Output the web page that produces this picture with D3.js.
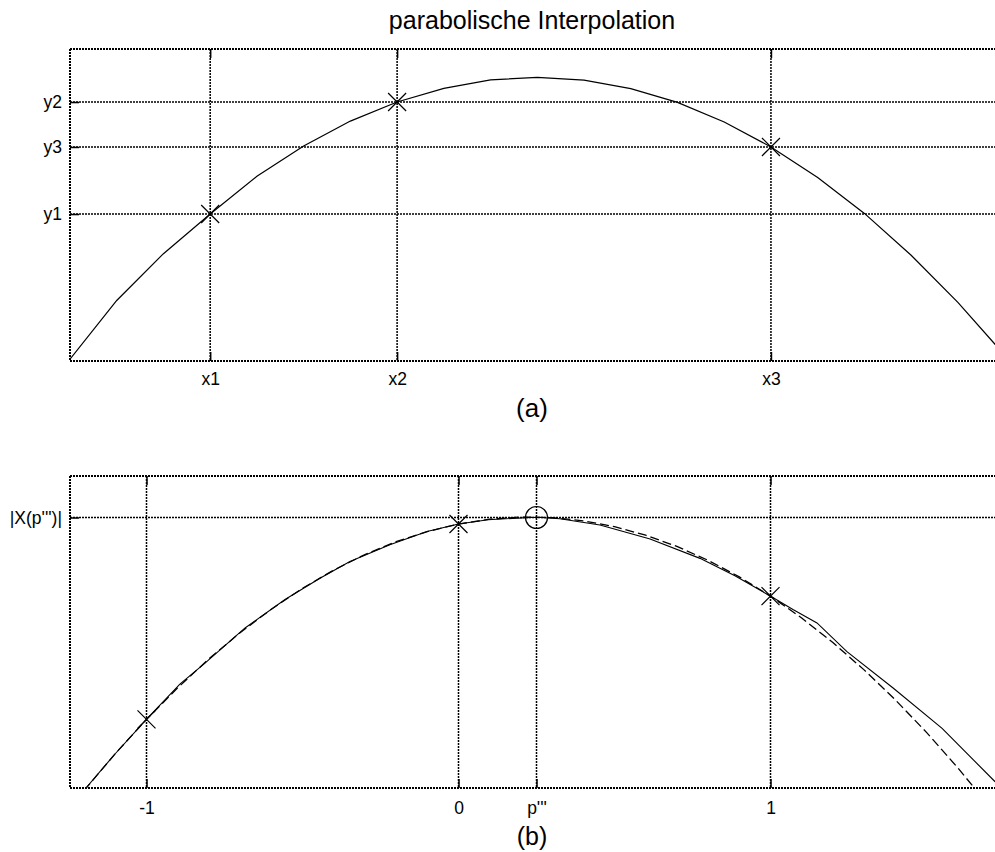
<!DOCTYPE html>
<html>
<head>
<meta charset="utf-8">
<script src="https://cdn.jsdelivr.net/npm/d3@7"></script>
<style>
  body { margin: 0; background: #fff; }
  text { font-family: "Liberation Sans", Arial, Helvetica, sans-serif; fill: #000; }
</style>
</head>
<body>
<svg id="fig" width="995" height="852"></svg>
<script>
// ---- panel (a): three samples and the sampled interpolating parabola ----
const aX = [0, 1, 2, 3, 4, 5, 6, 7, 8, 9, 10, 11, 12, 13, 14, 15, 16, 17, 18, 19, 20];
const aY = [0.6, 19.4, 34.4, 47.1, 59.2, 68.9, 76.9, 83.0, 87.4, 90.1, 90.9, 90.0, 87.3, 82.9, 76.6, 68.6, 58.8, 47.3, 33.9, 18.8, 1.9];
const aTickX = [3, 7, 15];
const aTickXLabels = ["x1", "x2", "x3"];
const aTickY = [47.1, 68.6, 83.0];
const aTickYLabels = ["y1", "y3", "y2"];
const aMarkX = [3, 7, 15];
const aMarkY = [47.1, 83.0, 68.6];

// ---- panel (b): spectrum magnitude (solid) and fitted parabola (dashed) ----
const bSolidX = [-1.194, -1.101, -0.998, -0.893, -0.8125, -0.684, -0.556, -0.444, -0.348, -0.22, -0.101, 0, 0.095, 0.25, 0.325, 0.4535, 0.614, 0.774, 0.886, 0.998, 1.072, 1.149, 1.245, 1.393, 1.55, 1.72];
const bSolidY = [0, 10.9, 22.2, 33.3, 40.0, 51.3, 60.4, 67.2, 72.6, 78.0, 82.2, 84.6, 86.0, 86.8, 86.3, 84.3, 79.8, 73.6, 68.0, 61.6, 57.2, 52.9, 43.7, 32.05, 19.1, 2.0];
const bParabX = [-1.2, -1.1, -1.0, -0.9, -0.8, -0.7, -0.6, -0.5, -0.4, -0.3, -0.2, -0.1, 0, 0.1, 0.2, 0.3, 0.4, 0.5, 0.6, 0.7, 0.8, 0.9, 1.0, 1.1, 1.2, 1.3, 1.4, 1.5, 1.6, 1.7];
const bParabY = [-0.8, 11.02, 22.0, 32.11, 41.38, 49.77, 57.32, 64.01, 69.84, 74.81, 78.94, 82.19, 84.6, 86.15, 86.84, 86.67, 85.64, 83.77, 81.02, 77.43, 72.98, 67.67, 61.5, 54.48, 46.6, 37.86, 28.26, 17.82, 6.5, -5.66];
const bTickX = [-1, 0, 0.25, 1];
const bTickXLabels = ["-1", "0", "p'''", "1"];
const bTickY = [86.7];
const bTickYLabels = ["|X(p''')|"];
const bMarkX = [-1, 0, 1];
const bMarkY = [22.0, 84.6, 61.5];
const bPeak = [0.25, 86.7];

const titleText = "parabolische Interpolation";

const svg = d3.select("#fig");
const W = 995;
const left = 70;

const xa = d3.scaleLinear().domain([0, 20]).range([left, 1004.6]);
const ya = d3.scaleLinear().domain([0, 100]).range([361, 49]);
const xb = d3.scaleLinear().domain([-1, 1]).range([146.5, 770.5]);
const yb = d3.scaleLinear().domain([0, 100]).range([788, 476]);

const dotted = "2,1";

function panel(id, x, y, tickX, tickXLabels, tickY, tickYLabels, padX) {
  const top = y.range()[1], bottom = y.range()[0];
  const g = svg.append("g").attr("id", id);

  svg.append("clipPath").attr("id", id + "-clip")
    .append("rect").attr("x", left).attr("y", top).attr("width", W - left).attr("height", bottom - top);

  // frame (left, top, bottom) drawn dotted
  const frame = g.append("g").attr("stroke", "#000").attr("stroke-width", 2).attr("stroke-dasharray", dotted).attr("fill", "none");
  frame.append("line").attr("x1", left).attr("x2", W).attr("y1", top).attr("y2", top);
  frame.append("line").attr("x1", left).attr("x2", W).attr("y1", bottom).attr("y2", bottom);
  frame.append("line").attr("x1", left).attr("x2", left).attr("y1", top).attr("y2", bottom);

  // grid lines at the tick positions
  const grid = g.append("g").attr("stroke", "#000").attr("stroke-width", 1.5).attr("stroke-dasharray", dotted);
  grid.selectAll(".gv").data(tickX).join("line")
    .attr("x1", d => x(d)).attr("x2", d => x(d)).attr("y1", top).attr("y2", bottom);
  grid.selectAll(".gh").data(tickY).join("line")
    .attr("x1", left).attr("x2", W).attr("y1", d => y(d)).attr("y2", d => y(d));

  // axes: inward ticks and labels
  const axB = d3.axisBottom(x).tickValues(tickX).tickSize(-9).tickPadding(padX)
    .tickFormat((d, i) => tickXLabels[i]);
  const axT = d3.axisTop(x).tickValues(tickX).tickSize(-9).tickFormat("");
  const axL = d3.axisLeft(y).tickValues(tickY).tickSize(-9).tickPadding(8)
    .tickFormat((d, i) => tickYLabels[i]);

  const gb = g.append("g").attr("transform", `translate(0,${bottom})`).call(axB);
  const gt = g.append("g").attr("transform", `translate(0,${top})`).call(axT);
  const gl = g.append("g").attr("transform", `translate(${left},0)`).call(axL);
  [gb, gt, gl].forEach(a => {
    a.select(".domain").remove();
    a.selectAll(".tick line").attr("stroke", "#000").attr("stroke-width", 1.5);
    a.selectAll("text").attr("font-size", 17.5).attr("font-family", null);
  });
  return g;
}

function cross(g, px, py, r) {
  g.append("path")
    .attr("d", `M${px - r},${py - r}L${px + r},${py + r}M${px - r},${py + r}L${px + r},${py - r}`)
    .attr("stroke", "#000").attr("stroke-width", 1.2).attr("fill", "none");
}

// ---- draw panel (a) ----
const ga = panel("pa", xa, ya, aTickX, aTickXLabels, aTickY, aTickYLabels, 12);
ga.append("path")
  .datum(aX.map((d, i) => [d, aY[i]]))
  .attr("clip-path", "url(#pa-clip)")
  .attr("fill", "none").attr("stroke", "#000").attr("stroke-width", 1.2)
  .attr("d", d3.line().x(d => xa(d[0])).y(d => ya(d[1])));
aMarkX.forEach((d, i) => cross(ga, xa(d), ya(aMarkY[i]), 9));

// ---- draw panel (b) ----
const gbp = panel("pb", xb, yb, bTickX, bTickXLabels, bTickY, bTickYLabels, 14);
gbp.append("path")
  .datum(bParabX.map((d, i) => [d, bParabY[i]]))
  .attr("clip-path", "url(#pb-clip)")
  .attr("fill", "none").attr("stroke", "#000").attr("stroke-width", 1.3)
  .attr("stroke-dasharray", "9,4")
  .attr("d", d3.line().x(d => xb(d[0])).y(d => yb(d[1])));
gbp.append("path")
  .datum(bSolidX.map((d, i) => [d, bSolidY[i]]))
  .attr("clip-path", "url(#pb-clip)")
  .attr("fill", "none").attr("stroke", "#000").attr("stroke-width", 1.1)
  .attr("d", d3.line().x(d => xb(d[0])).y(d => yb(d[1])));
bMarkX.forEach((d, i) => cross(gbp, xb(d), yb(bMarkY[i]), 9));
gbp.append("circle")
  .attr("cx", xb(bPeak[0])).attr("cy", yb(bPeak[1])).attr("r", 11)
  .attr("fill", "none").attr("stroke", "#000").attr("stroke-width", 1.2);

// ---- titles and panel captions ----
svg.append("text").attr("x", 532).attr("y", 29).attr("text-anchor", "middle")
  .attr("font-size", 25).text(titleText);
svg.append("text").attr("x", 532).attr("y", 417).attr("text-anchor", "middle")
  .attr("font-size", 26).text("(a)");
svg.append("text").attr("x", 532).attr("y", 845).attr("text-anchor", "middle")
  .attr("font-size", 25).text("(b)");
</script>
</body>
</html>
